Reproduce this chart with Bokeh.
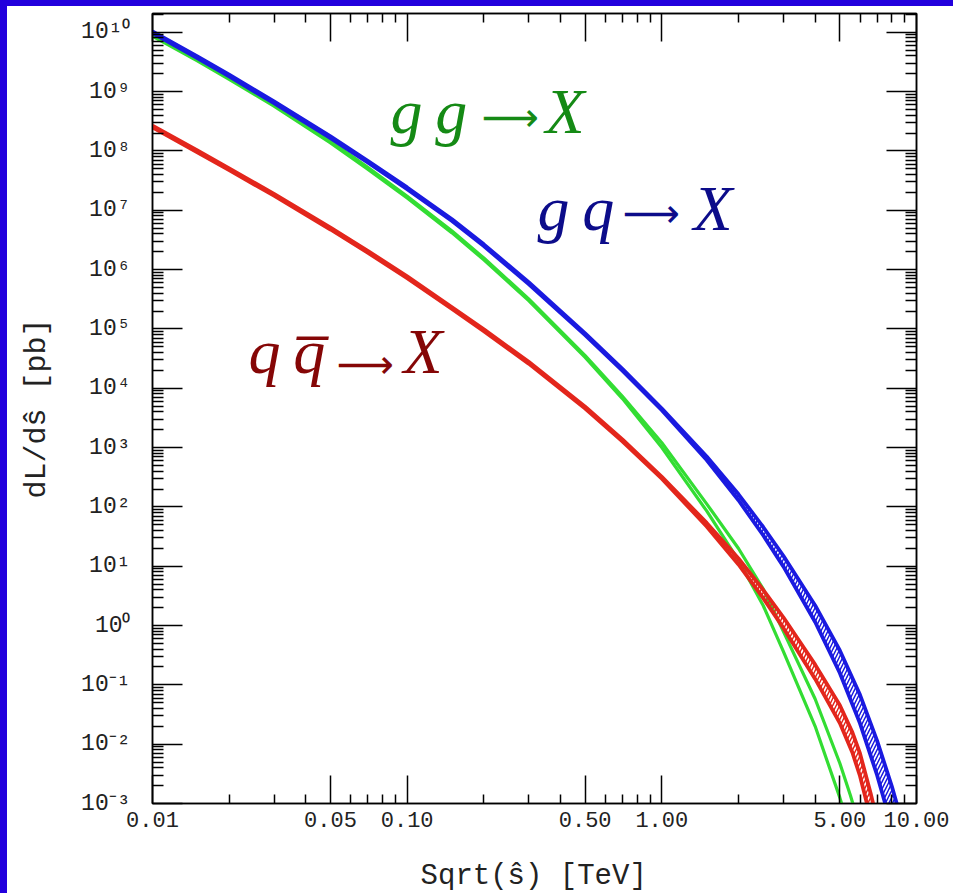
import numpy as np
from bokeh.plotting import figure
from bokeh.models import (FixedTicker, CustomJSTickFormatter, Label, Div, Range1d,
                          LogAxis, ColumnDataSource)
from bokeh.layouts import row, column
from bokeh.core.properties import value
from bokeh.embed import file_html
from bokeh.resources import INLINE

# ---------------- data ----------------
# sqrt(s-hat) in TeV, dL/ds-hat in pb, band half-width in decades
sqrt_s_gq = [0.01, 0.015, 0.02, 0.03, 0.05, 0.07, 0.1, 0.15, 0.2, 0.3, 0.5, 0.7, 1.0,
             1.5, 2.0, 2.5, 3.0, 4.0, 5.0, 6.0, 7.0, 8.0, 9.0]
lum_gq = [1.0e10, 3.8e9, 1.86e9, 6.6e8, 1.7e8, 6.6e7, 2.34e7, 6.8e6, 2.57e6, 5.9e5,
          8.1e4, 2.04e4, 4.4e3, 6.6e2, 1.45e2, 3.9e1, 1.22e1, 1.58, 2.45e-1, 3.9e-2,
          5.9e-3, 8.9e-4, 1.38e-4]
band_gq = [0.015] * 13 + [0.03, 0.05, 0.07, 0.09, 0.14, 0.19, 0.24, 0.29, 0.34, 0.38]

sqrt_s_gg = [0.01, 0.015, 0.02, 0.03, 0.05, 0.07, 0.1, 0.15, 0.2, 0.3, 0.5, 0.7, 1.0,
             1.5, 2.0, 2.5, 3.0, 4.0, 5.0, 5.5, 6.0]
lum_gg = [8.9e9, 3.4e9, 1.66e9, 5.9e8, 1.41e8, 5.1e7, 1.66e7, 4.3e6, 1.51e6, 3.1e5,
          3.43e4, 7.0e3, 1.10e3, 9.8e1, 1.58e1, 3.0, 5.4e-1, 3.4e-2, 2.45e-3, 6.6e-4,
          1.74e-4]
band_gg = [0.015] * 11 + [0.02, 0.04, 0.06, 0.10, 0.14, 0.17, 0.23, 0.29, 0.32, 0.35]

sqrt_s_qq = [0.01, 0.015, 0.02, 0.03, 0.05, 0.07, 0.1, 0.15, 0.2, 0.3, 0.5, 0.7, 1.0,
             1.5, 2.0, 2.5, 3.0, 4.0, 5.0, 5.6, 6.0, 6.6, 7.2]
lum_qq = [2.57e8, 9.8e7, 4.9e7, 1.82e7, 4.9e6, 2.0e6, 7.4e5, 2.24e5, 9.5e4, 2.69e4,
          4.7e3, 1.32e3, 3.1e2, 5.0e1, 1.2e1, 3.4, 1.12, 1.66e-1, 3.2e-2, 1.07e-2,
          4.5e-3, 9.3e-4, 1.9e-4]
band_qq = [0.015] * 13 + [0.03, 0.05, 0.07, 0.09, 0.12, 0.15, 0.17, 0.19, 0.21, 0.23]

x_major = [0.01, 0.05, 0.1, 0.5, 1.0, 5.0, 10.0]
x_minor = [0.02, 0.03, 0.04, 0.06, 0.07, 0.08, 0.09, 0.2, 0.3, 0.4, 0.6, 0.7, 0.8,
           0.9, 2, 3, 4, 6, 7, 8, 9]
y_exponents = list(range(-3, 11))

x_title = "Sqrt(\u015d) [TeV]"
y_title = "dL/d\u015d [pb]"
# process labels: (initial partons, arrow, final state)
label_parts = [("g\u2009g", "\u27f6", "X"),
               ("g\u2009q", "\u27f6", "X"),
               ("q\u2009q\u0305", "\u27f6", "X")]

# ---------------- styling ----------------
BLUE_FRAME = "#2200dd"
C_GQ, C_GG, C_QQ = "#1a1ae0", "#33dd33", "#e3261c"
T_GG, T_GQ, T_QQ = "#158a15", "#0c0c8a", "#850606"
MONO = "Liberation Mono"
X0, X1, Y0, Y1 = 0.01, 10.0, 1e-3, 2.07e10
FL, FR, FT, FB = 152, 916, 13, 803  # frame edges in page pixels
FIG_H = 842

p = figure(width=946, height=FIG_H, x_axis_type="log", y_axis_type="log",
           x_range=Range1d(X0, X1), y_range=Range1d(Y0, Y1),
           output_backend="svg", toolbar_location=None,
           min_border_left=145, min_border_right=37, min_border_top=7,
           min_border_bottom=FIG_H - 7 - (FB - FT), background_fill_color="white",
           border_fill_color="white", outline_line_color="black",
           outline_line_width=1.5)
p.grid.visible = False


def at(px, py):
    """page pixel -> data coordinates (for placing annotations)"""
    u = np.log10(X0) + (px - FL) / (FR - FL) * (np.log10(X1) - np.log10(X0))
    v = np.log10(Y1) - (py - FT) / (FB - FT) * (np.log10(Y1) - np.log10(Y0))
    return 10 ** u, 10 ** v


def band(xs, vals, dex):
    v = np.log10(np.array(vals))
    d = np.array(dex)
    return np.array(xs), 10 ** (v - d), 10 ** (v + d)


for xs, vals, dex, col, hatch, lw in [(sqrt_s_gg, lum_gg, band_gg, C_GG, False, 3.2),
                                       (sqrt_s_qq, lum_qq, band_qq, C_QQ, True, 3.8),
                                       (sqrt_s_gq, lum_gq, band_gq, C_GQ, True, 3.8)]:
    x, lo, hi = band(xs, vals, dex)
    src = ColumnDataSource(dict(x=x, lo=lo, hi=hi))
    if hatch:
        p.varea(x="x", y1="lo", y2="hi", source=src, fill_alpha=0,
                hatch_pattern="/", hatch_color=col, hatch_scale=7, hatch_weight=1.5)
    p.line(x="x", y="lo", source=src, line_color=col, line_width=lw)
    p.line(x="x", y="hi", source=src, line_color=col, line_width=lw)

# ---------------- axes ----------------
xt = FixedTicker(ticks=x_major, minor_ticks=x_minor)
yt = FixedTicker(ticks=[10.0 ** e for e in y_exponents],
                 minor_ticks=[m * 10.0 ** e for e in y_exponents for m in range(2, 10)])
xfmt = CustomJSTickFormatter(code="return tick.toFixed(2);")
yfmt = CustomJSTickFormatter(code="""
const sup = {'0':'\u2070','1':'\u00b9','2':'\u00b2','3':'\u00b3','4':'\u2074',
             '5':'\u2075','6':'\u2076','7':'\u2077','8':'\u2078','9':'\u2079','-':'\u207b'};
const e = Math.round(Math.log10(tick));
return '10' + String(e).split('').map(c => sup[c]).join('');
""")
blank = CustomJSTickFormatter(code="return '';")


def style(ax, major, minor):
    ax.major_tick_in = major
    ax.major_tick_out = 0
    ax.minor_tick_in = minor
    ax.minor_tick_out = 0
    ax.axis_line_color = "black"
    ax.axis_line_width = 1.5
    ax.major_tick_line_color = "black"
    ax.major_tick_line_width = 1.5
    ax.minor_tick_line_color = "black"
    ax.minor_tick_line_width = 1.5


xa = p.xaxis[0]
xa.ticker = xt
xa.formatter = xfmt
style(xa, 28, 9)
xa.major_label_text_font = MONO
xa.major_label_text_font_size = "22px"
xa.major_label_text_color = "#222222"
xa.major_label_standoff = 8

ya = p.yaxis[0]
ya.ticker = yt
ya.formatter = yfmt
style(ya, 30, 11)
ya.major_label_text_font = MONO
ya.major_label_text_font_size = "23px"
ya.major_label_text_color = "#222222"
ya.major_label_standoff = 22
ya.axis_label = y_title
ya.axis_label_text_font = MONO
ya.axis_label_text_font_size = "30px"
ya.axis_label_text_font_style = "normal"
ya.axis_label_text_color = "#222222"
ya.axis_label_standoff = 24

top = LogAxis(ticker=xt, formatter=blank, major_label_text_font_size="1px",
              major_label_standoff=0)
style(top, 28, 9)
p.add_layout(top, "above")
right = LogAxis(ticker=yt, formatter=blank, major_label_text_font_size="1px",
                major_label_standoff=0)
style(right, 30, 11)
p.add_layout(right, "right")

# ---------------- process labels ----------------
# page-pixel anchors: letters (left, baseline), arrow (centre), X (left, baseline)
anchors = [((390, 135), (510, 116), (545, 135)),
           ((537, 232), (651, 212), (693, 232)),
           ((248, 375), (365, 363), (403, 375))]
SHIFT = 24  # alphabetic-baseline correction
for (a_txt, arr_txt, x_txt), (pa, pb, pc), col in zip(label_parts, anchors,
                                                      [T_GG, T_GQ, T_QQ]):
    lx, ly = at(pa[0], pa[1] - SHIFT)
    p.add_layout(Label(x=lx, y=ly, text=a_txt, text_color=col,
                       text_font="Liberation Serif", text_font_style="italic",
                       text_font_size="64px", text_baseline="alphabetic",
                       text_align="left"))
    ax_, ay_ = at(*pb)
    p.add_layout(Label(x=ax_, y=ay_, text=arr_txt, text_color=col,
                       text_font="DejaVu Sans", text_font_size="40px",
                       text_baseline="middle", text_align="center"))
    xx, xy = at(pc[0], pc[1] - SHIFT)
    p.add_layout(Label(x=xx, y=xy, text=x_txt, text_color=col,
                       text_font="Liberation Serif", text_font_style="italic",
                       text_font_size="64px", text_baseline="alphabetic",
                       text_align="left"))

# ---------------- x-axis title strip below the plot ----------------
STRIP_H = 893 - 6 - FIG_H
t = figure(width=946, height=STRIP_H, x_range=Range1d(0, 946), y_range=Range1d(0, STRIP_H),
           output_backend="svg", toolbar_location=None, x_axis_location=None,
           y_axis_location=None, min_border=0, outline_line_color=None,
           background_fill_color="white", border_fill_color="white")
t.grid.visible = False
t.text(x=[472], y=[STRIP_H - (876 - 6 - FIG_H)], text=[x_title],
       text_font=value(MONO), text_font_size="29px", text_color="#222222",
       text_align="center", text_baseline="middle")

left_bar = Div(width=7, height=893, margin=0, styles={"background-color": BLUE_FRAME})
top_bar = Div(width=946, height=6, margin=0, styles={"background-color": BLUE_FRAME})
layout = row(left_bar, column(top_bar, p, t, spacing=0), spacing=0)

open("out.html", "w").write(file_html(layout, INLINE))
